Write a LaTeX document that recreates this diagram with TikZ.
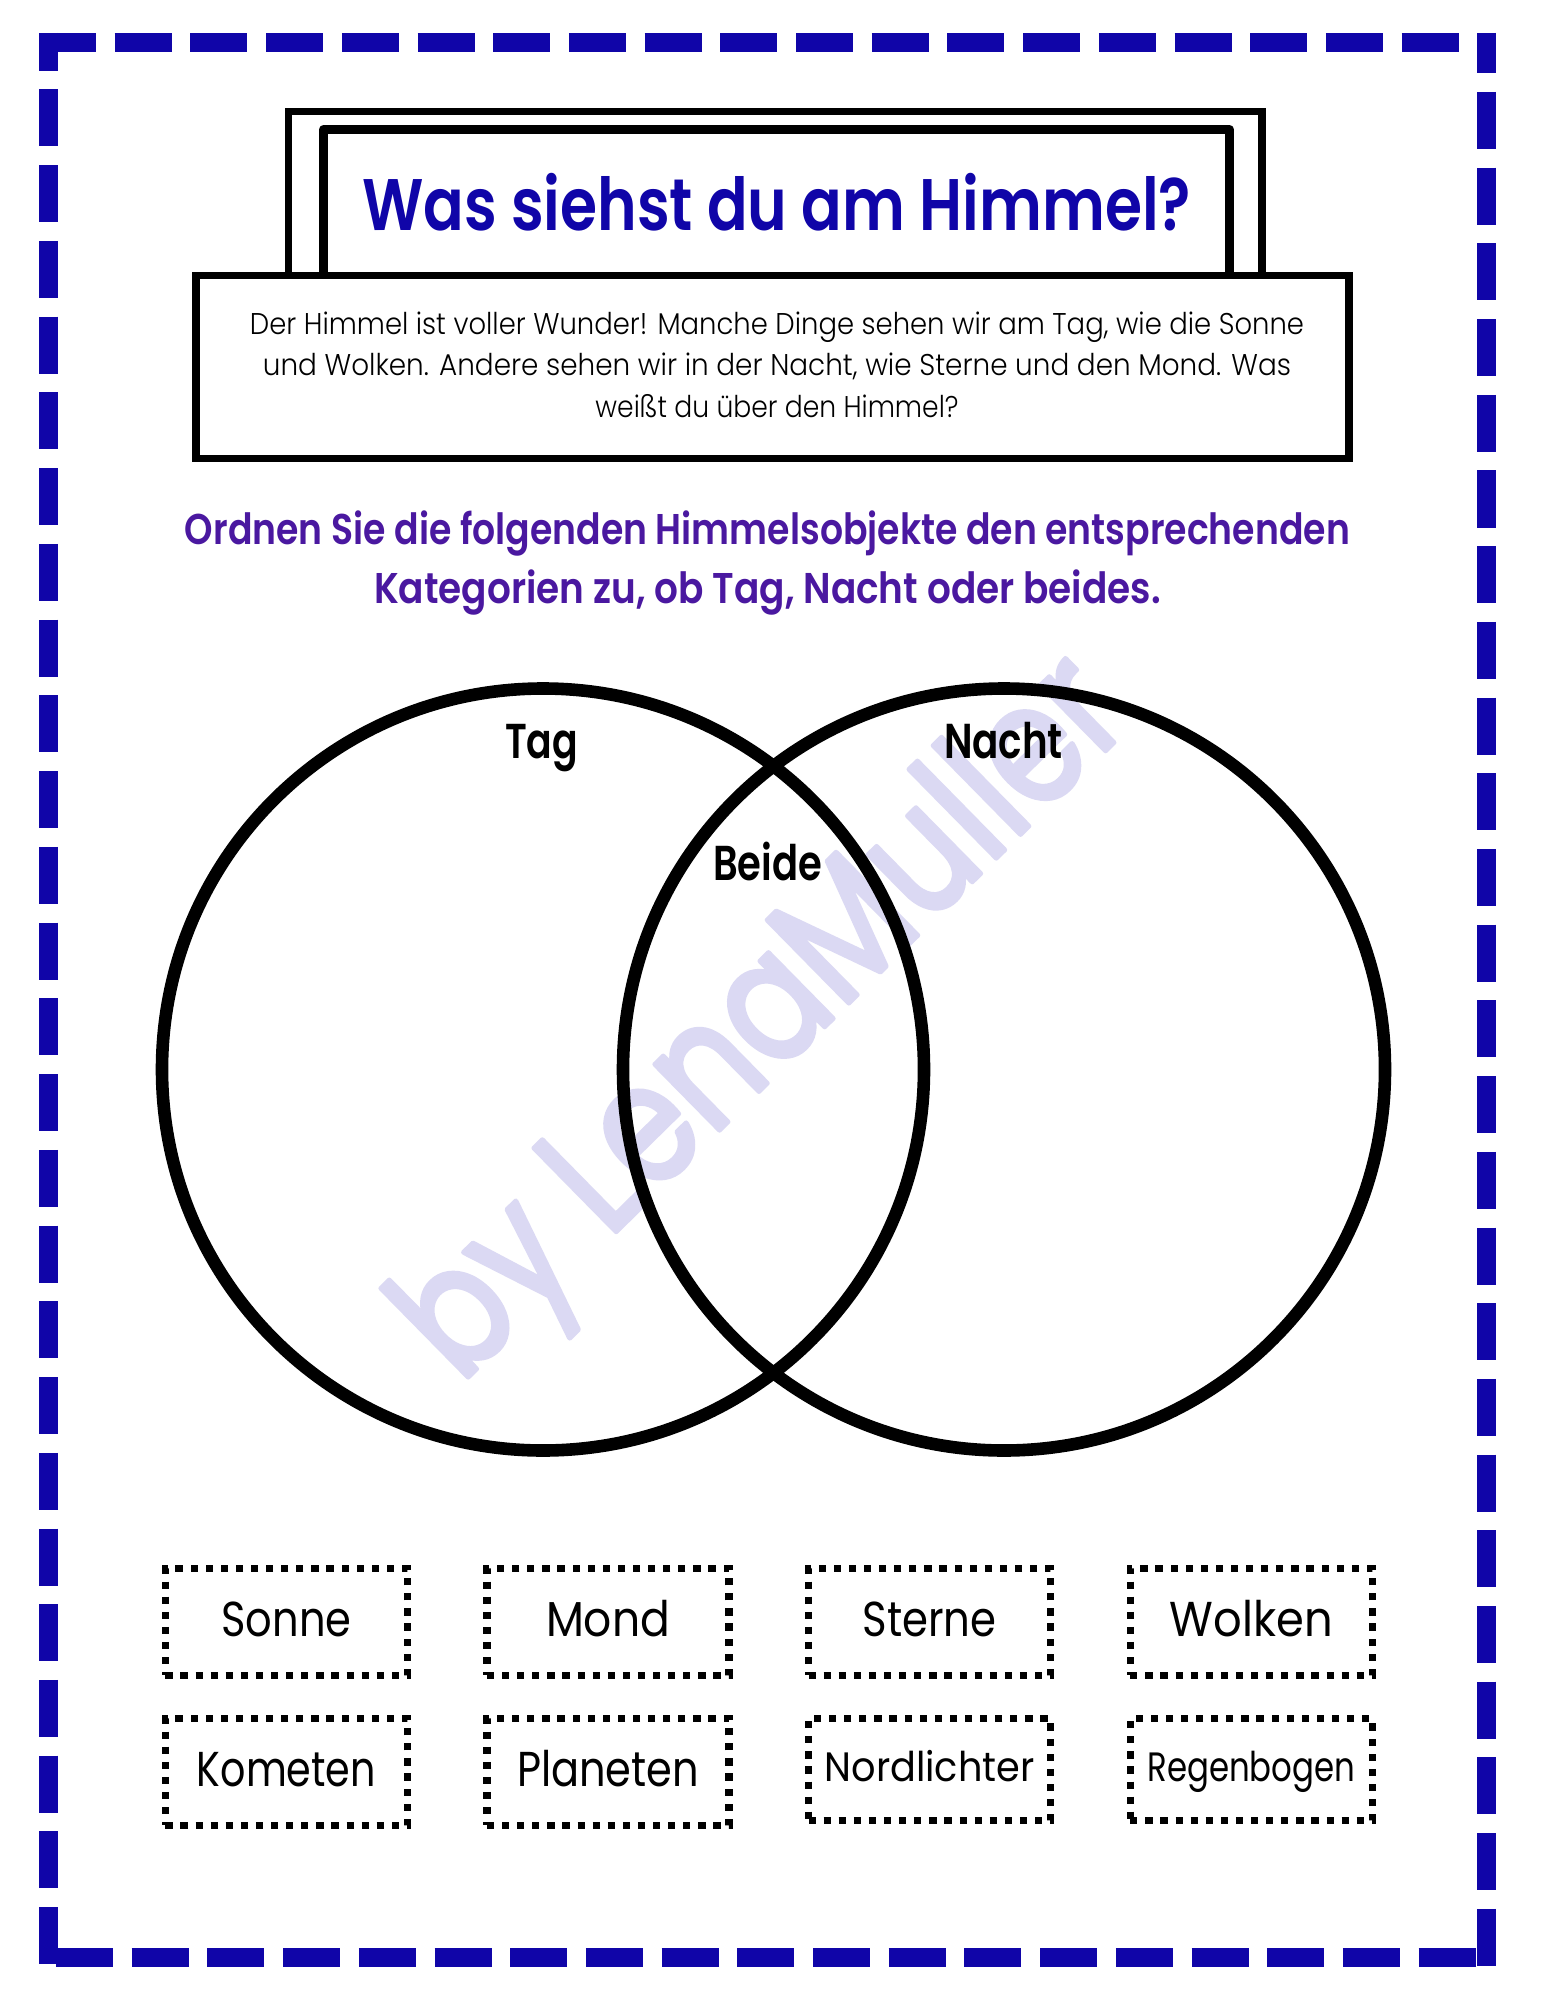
\documentclass[tikz,border=0pt]{standalone}
\usepackage{graphicx}
\usepackage{fontspec}
\setmainfont{Poppins}
\newfontfamily\lightf{Poppins Light}
\newfontfamily\semif{Poppins SemiBold}
\newfontfamily\wmf[FakeBold=3]{Poppins}
\definecolor{borderblue}{HTML}{1005A8}
\definecolor{instrpurple}{HTML}{4A18A0}
\definecolor{wmark}{HTML}{DBD9F3}
\newdimen\pxu \pxu=.5pt
\newcommand{\ff}[2]{\resizebox{#1\pxu}{\height}{#2}}
\tikzset{
  frameside/.style={draw=borderblue,line width=9.5pt,line cap=butt},
  titlebox/.style={draw=black,fill=white,line join=miter,inner sep=0pt},
  itembox/.style={draw=black,line width=3.65pt,dash pattern=on 3.6pt off 3.95pt,inner sep=0pt,minimum width=121.1pt,
    text height=20pt,text depth=5.3pt},
  smallitem/.style={itembox,minimum height=51pt,text height=18pt,text depth=5.9pt},
  bigitem/.style={itembox,minimum height=53.35pt},
  itemfont/.style={font=\rmfamily\fontsize{24.5}{28}\selectfont},
  smallfont/.style={font=\rmfamily\fontsize{20.5}{25}\selectfont},
  venn/.style={draw=black,circle,line width=6.3pt,minimum size=381pt,inner sep=0pt},
  vennlabel/.style={inner sep=0pt,anchor=base,font=\semif\fontsize{24.5}{28}\selectfont},
  instr/.style={inner sep=0pt,anchor=base,text=instrpurple,font=\semif\fontsize{21.5}{26}\selectfont},
}
\begin{document}
\begin{tikzpicture}[x=.5pt,y=-.5pt]
\useasboundingbox (0,0) rectangle (1545,2000);
\fill[white] (0,0) rectangle (1545,2000);

% frame
\draw[frameside,dash pattern=on 28.5pt off 9.35pt] (39,42.5) -- (1477,42.5);
\draw[frameside,dash pattern=on 28.5pt off 9.35pt,dash phase=8.35pt] (1486,33) -- (1486,1966);
\draw[frameside,dash pattern=on 28.5pt off 9.37pt,dash phase=9.65pt] (48.5,33) -- (48.5,1965);
\draw[frameside,dash pattern=on 28.5pt off 9.35pt] (56,1957.2) -- (1476,1957.2);

% heading
\node[titlebox,line width=3.6pt,minimum width=486.75pt,minimum height=88pt] (titleouter) at (775.25,199.5) {};
\node[titlebox,line join=round,line width=4.4pt,minimum width=453pt,minimum height=78pt,text=borderblue,
      text height=28pt,text depth=5pt,font=\semif\fontsize{36.5}{40}\selectfont] (title) at (776.5,207.5)
      {\ff{829}{Was siehst du am Himmel?}};
\node[titlebox,line width=3.7pt,minimum width=576.5pt,minimum height=91.5pt,align=center,
      font=\lightf\fontsize{15}{20.65}\selectfont] (desc) at (772.5,367)
      {\hspace*{4.5pt}\ff{1054}{Der Himmel ist voller Wunder! Manche Dinge sehen wir am Tag, wie die Sonne}\\
       \hspace*{4.5pt}\ff{1028}{und Wolken. Andere sehen wir in der Nacht, wie Sterne und den Mond. Was}\\
       \hspace*{4.5pt}\ff{363}{weißt du über den Himmel?}\rule[-2.5pt]{0pt}{0pt}};

\node[instr] (instr1) at (767.5,544) {\ff{1165}{Ordnen Sie die folgenden Himmelsobjekte den entsprechenden}};
\node[instr] (instr2) at (767.5,603) {\ff{787}{Kategorien zu, ob Tag, Nacht oder beides.}};

% watermark
\node[inner sep=0pt,anchor=base west,rotate=44.5,text=wmark,font=\wmf\fontsize{84}{90}\selectfont]
   (wm) at (460,1385) {\special{pdf:code 1 j 1 J}\ff{945}{by LenaMuller}};

% venn
\node[venn] (tag) at (543,1069.5) {};
\node[venn] (nacht) at (1004,1069.5) {};
\node[vennlabel] (ltag) at (541.5,758) {\ff{73}{Tag}};
\node[vennlabel] (lnacht) at (1003.5,758) {\ff{119}{Nacht}};
\node[vennlabel] (lbeide) at (767.5,880) {\ff{109}{Beide}};

% items
\node[bigitem,itemfont] (sonne) at (286.4,1622) {\ff{130}{Sonne}};
\node[bigitem,itemfont] (mond) at (608,1622) {\ff{124}{Mond}};
\node[bigitem,itemfont] (sterne) at (929.6,1622) {\ff{134}{Sterne}};
\node[bigitem,itemfont] (wolken) at (1251.3,1622) {\ff{163}{Wolken}};
\node[bigitem,itemfont] (kometen) at (286.4,1772) {\ff{179}{Kometen}};
\node[bigitem,itemfont] (planeten) at (608,1772) {\ff{182}{Planeten}};
\node[smallitem,smallfont] (nord) at (929.6,1769.6) {\ff{210}{Nordlichter}};
\node[smallitem,smallfont] (regen) at (1251.3,1769.6) {\ff{208}{Regenbogen}};
\end{tikzpicture}
\end{document}
